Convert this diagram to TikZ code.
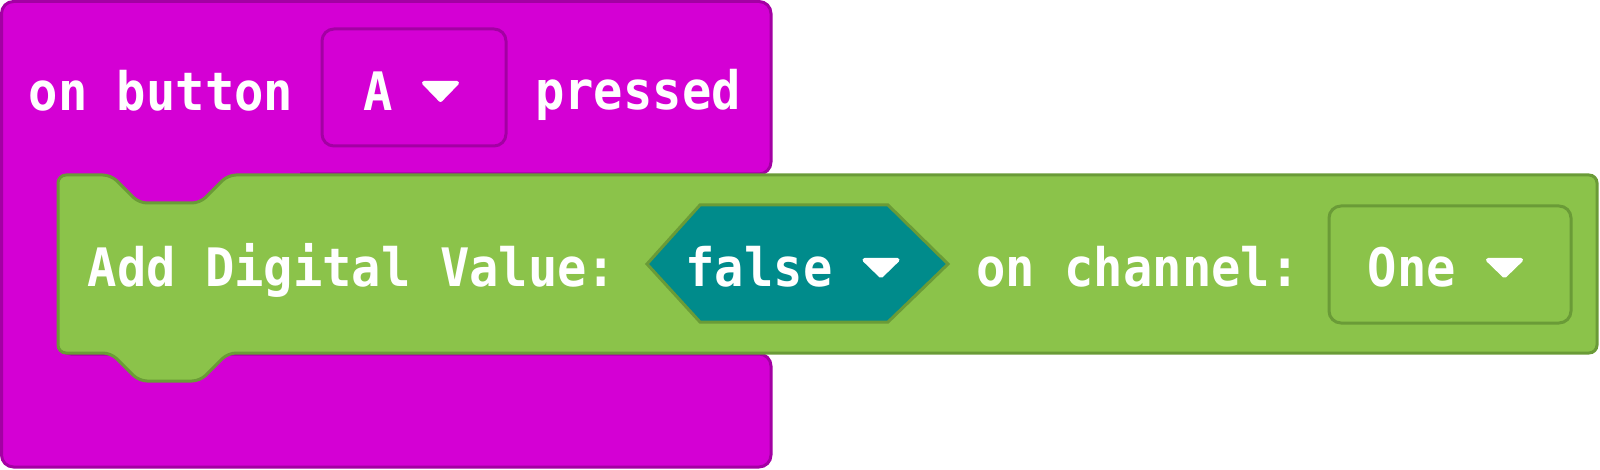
\documentclass[tikz,border=0pt]{standalone}
\usepackage{fontspec}
\newfontfamily\blockfont[FakeStretch=0.92]{DejaVu Sans Mono}
\definecolor{evfill}{HTML}{D400D4}
\definecolor{evline}{HTML}{A300A3}
\definecolor{stfill}{HTML}{8BC34A}
\definecolor{stline}{HTML}{6A9B37}
\definecolor{tealfill}{HTML}{008B8B}
\begin{document}
\begin{tikzpicture}[x=1pt,y=-1pt,
  evblock/.style={fill=evfill,draw=evline,line width=3pt,rounded corners=12pt},
  stblock/.style={fill=stfill,draw=stline,line width=3pt,rounded corners=8pt},
  evdrop/.style={fill=evfill,draw=evline,line width=3pt,rounded corners=12pt},
  stdrop/.style={fill=stfill,draw=stline,line width=3pt,rounded corners=12pt},
  boolhex/.style={fill=tealfill,draw=stline,line width=3pt},
  label/.style={text=white,inner sep=0pt,anchor=base,font=\blockfont\bfseries\fontsize{53}{60}\selectfont},
  droparrow/.style={fill=white,draw=white,line width=4pt,line join=round}
]
\useasboundingbox (0,0) rectangle (1600,470);
% event block (C shape)
\draw[evblock] (1.5,1.5) -- (771,1.5) -- (771,174) -- (59,174) -- (59,354) -- (771,354) -- (771,467) -- (1.5,467) -- cycle;
\fill[evfill] (60,170) rectangle (300,215);
% dropdown A
\draw[evdrop] (322,29) rectangle (506,146);
\node[label] (onbutton) at (161,111) {on button};
\node[label] (btnA) at (378,111) {A};
\draw[droparrow] (424,83) -- (457,83) -- (440.5,100) -- cycle;
\node[label] (pressed) at (638,110) {pressed};
% statement block
\draw[stblock] (58,175) -- (111,175) -- (139,203) -- (200,203) -- (228,175) -- (1597,175) -- (1597,353) -- (228,353) -- (200,381) -- (139,381) -- (111,353) -- (58,353) -- cycle;
\node[label] (adddv) at (352,287) {Add Digital Value:};
% boolean hexagon
\draw[boolhex] (647,264) -- (700,205) -- (888,205) -- (948,264) -- (888,322) -- (700,322) -- cycle;
\node[label] (falseval) at (759,287) {false};
\draw[droparrow] (864.5,260) -- (897.5,260) -- (881,276) -- cycle;
\node[label] (onchan) at (1138,287) {on channel:};
% dropdown One
\draw[stdrop] (1329,206) rectangle (1571,323);
\node[label] (chanone) at (1412,287) {One};
\draw[droparrow] (1488,260) -- (1521,260) -- (1504.5,276) -- cycle;
\end{tikzpicture}
\end{document}
